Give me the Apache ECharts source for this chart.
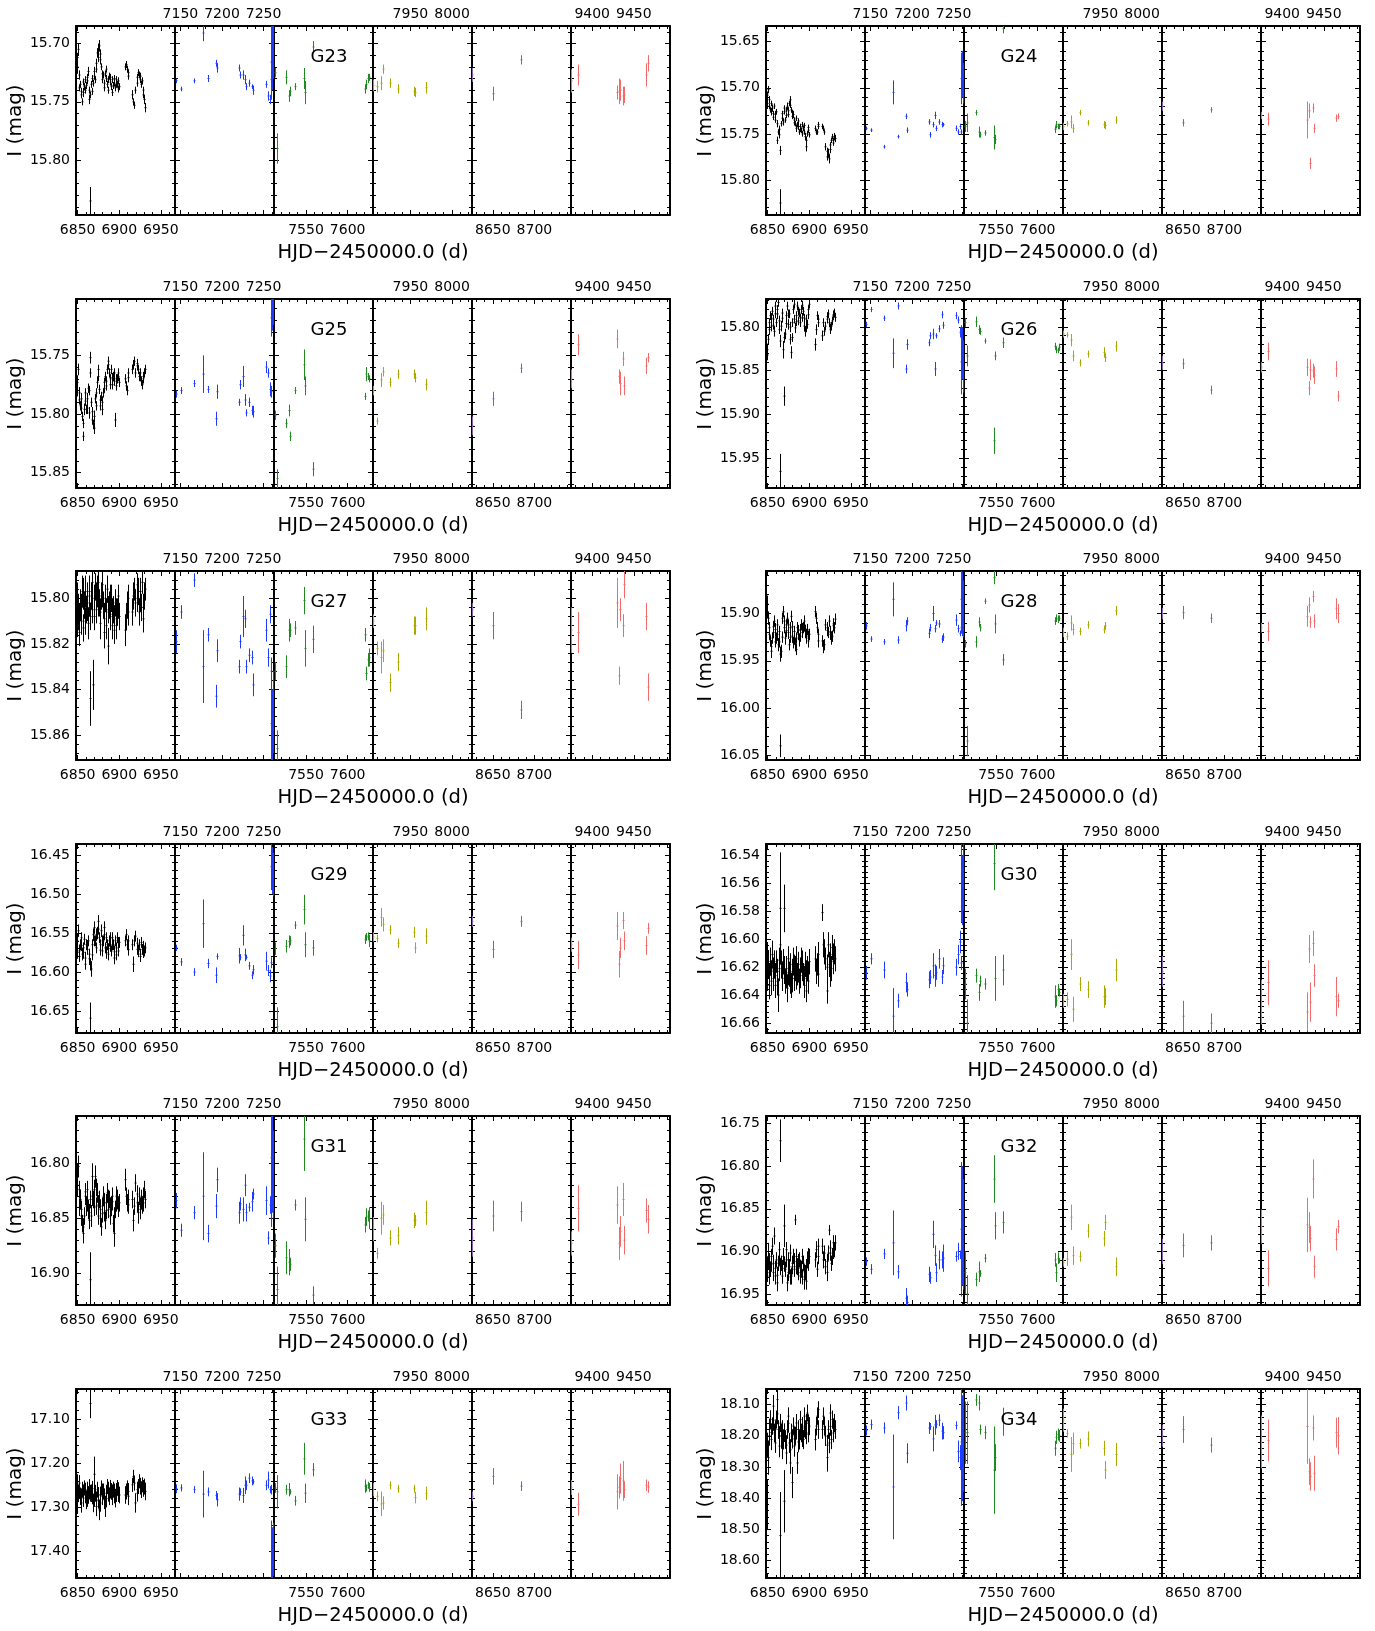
<!DOCTYPE html>
<html>
<head>
<meta charset="utf-8">
<script src="https://cdn.jsdelivr.net/npm/echarts/dist/echarts.min.js"></script>
<style>
  html, body { margin: 0; padding: 0; background: #ffffff; }
  #chart { width: 1375px; height: 1631px; }
</style>
</head>
<body>
<div id="chart"></div>
<script>
// ---- time axis: six observing seasons, each shown in its own narrow box ----
const segRanges = [[6848, 6967], [7143.5, 7262.5], [7511.5, 7630.5], [7905, 8024], [8625, 8744], [9374.5, 9493.5]];
const segTicks = [[6850, 6900, 6950], [7150, 7200, 7250], [7550, 7600], [7950, 8000], [8650, 8700], [9400, 9450]];
const seasonColors = ['#000000', '#1e3cff', '#1f8a1f', '#a9a900', '#8462ac', '#f26a6a'];

// epochs (HJD-2450000) per season, shared by all stars
const tSeason1 = [6848.8,6850.0,6851.2,6852.4,6853.6,6854.8,6856.0,6857.2,6858.4,6859.6,
  6860.8,6862.0,6863.2,6864.4,6865.3,6866.6,6867.8,6869.0,6870.2,6871.4,
  6872.6,6873.8,6875.0,6876.2,6877.4,6878.6,6879.8,6881.0,6882.2,6883.4,
  6884.6,6885.8,6887.0,6888.2,6889.4,6890.6,6891.8,6893.0,6894.2,6895.4,
  6896.6,6897.8,6899.0,6900.2,
  6907.4,6908.2,6909.0,6910.0,6910.8,
  6915.2,6916.4,6918.0,6919.5,6920.8,6922.0,6923.2,6924.4,6925.6,6926.8,6928.0,6929.2,6930.4,
  6849.4,6851.8,6854.2,6856.6,6859.0,6861.4,6863.8,6867.2,6869.6,6872.0,6874.4,6876.8,
  6879.2,6881.6,6884.0,6886.4,6888.8,6891.2,6893.6,6896.0,6898.4,6921.4,6925.0,6928.6];
const tSeason2 = [7145.1,7151.3,7165.9,7177.4,7182.6,7193.0,7194.5,7220.6,7222.1,7225.8,
  7227.4,7228.9,7232.0,7236.2,7237.8,7253.4,7255.5,7257.1,7258.7,7259.3,7260.0,7260.7];
const tSeason3 = [7512.5,7515.7,7526.1,7529.2,7530.3,7536.5,7548.0,7549.0,7558.4,7620.9,7622.4,7624.5,7626.1];
const tSeason4 = [7905.5,7909.7,7914.4,7917.0,7925.8,7935.2,7954.5,7956.0,7969.1];
const tSeason5 = [8625.5,8650.0,8683.9];
const tSeason6 = [9375.0,9383.4,9430.2,9432.3,9433.4,9436.5,9438.6,9464.6,9467.2];
const seasonTimes = [tSeason1, tSeason2, tSeason3, tSeason4, tSeason5, tSeason6];

// ---- stars: magnitude window and labelled ticks ----
const starNames = ['G23','G24','G25','G26','G27','G28','G29','G30','G31','G32','G33','G34'];
const starRanges = [[15.685,15.847],[15.633,15.838],[15.702,15.863],[15.768,15.984],[15.788,15.871],[15.855,16.055],
  [16.436,16.678],[16.532,16.667],[16.757,16.929],[16.741,16.963],[17.032,17.46],[18.05,18.656]];
const starTicks = [[15.70,15.75,15.80],[15.65,15.70,15.75,15.80],[15.75,15.80,15.85],[15.80,15.85,15.90,15.95],
  [15.80,15.82,15.84,15.86],[15.90,15.95,16.00,16.05],[16.45,16.50,16.55,16.60,16.65],
  [16.54,16.56,16.58,16.60,16.62,16.64,16.66],[16.80,16.85,16.90],[16.75,16.80,16.85,16.90,16.95],
  [17.10,17.20,17.30,17.40],[18.10,18.20,18.30,18.40,18.50,18.60]];

// ---- I magnitudes and errors, per star, per season ----
const magG23 = [
  [15.720,15.705,15.727,15.735,15.744,15.750,15.742,15.737,15.731,15.736,
   15.729,15.724,15.740,15.744,15.835,15.735,15.730,15.734,15.724,15.731,
   15.717,15.708,15.705,15.702,15.709,15.720,15.731,15.727,15.734,15.726,
   15.730,15.735,15.731,15.728,15.733,15.737,15.731,15.736,15.734,15.738,
   15.731,15.735,15.732,15.737, 15.720,15.718,15.722,15.725,15.728,
   15.744,15.750,15.753,15.740,15.734,15.725,15.727,15.731,15.735,15.732,15.740,15.748,15.755,
   15.712,15.738,15.741,15.733,15.740,15.732,15.748,15.741,15.728,15.722,15.712,15.714,
   15.726,15.738,15.722,15.740,15.729,15.742,15.730,15.735,15.739,15.729,15.728,15.744],
  [15.732,15.739,15.732,15.691,15.730,15.717,15.721,15.721,15.727,15.727,15.731,15.737,15.734,15.737,15.740,15.735,15.745,15.748,15.731,15.716,15.710,15.705],
  [15.725,15.790,15.729,15.745,15.741,15.737,15.730,15.742,15.703,15.739,15.735,15.730,15.729],
  [15.736,15.737,15.734,15.722,15.734,15.739,15.741,15.742,15.738],
  [15.727,15.743,15.714],
  [15.732,15.727,15.742,15.741,15.740,15.745,15.744,15.727,15.717]];
const errG23 = [
  [.006,.005,.004,.003,.003,.003,.004,.003,.003,.003, .003,.004,.003,.003,.012,.003,.003,.003,.004,.003,
   .004,.004,.005,.005,.004,.003,.003,.003,.003,.003, .003,.003,.003,.003,.003,.003,.003,.003,.003,.003,
   .003,.003,.003,.003, .003,.003,.003,.003,.003, .004,.003,.003,.003,.003,.003,.003,.003,.003,.003,.003,.004,.004,
   .004,.003,.003,.003,.003,.003,.004,.003,.003,.003,.004,.004,.003,.003,.003,.003,.003,.003,.003,.003,.003,.003,.003,.003],
  [.002,.002,.002,.007,.003,.003,.004,.003,.003,.004,.004,.003,.003,.002,.004,.003,.004,.004,.004,.032,.030,.025],
  [.004,.013,.006,.005,.004,.003,.009,.010,.005,.004,.004,.004,.003],
  [.005,.005,.006,.004,.004,.004,.004,.004,.005],
  [.006,.006,.004],
  [.010,.009,.006,.011,.009,.008,.007,.010,.007]];

const magG24 = [
  [15.717,15.702,15.713,15.724,15.717,15.722,15.728,15.720,15.729,15.726,
   15.739,15.748,15.751,15.768,15.825,15.739,15.728,15.737,15.726,15.735,
   15.724,15.720,15.729,15.717,15.713,15.724,15.731,15.729,15.735,15.739,
   15.733,15.740,15.742,15.748,15.742,15.746,15.740,15.744,15.748,15.753,
   15.764,15.750,15.746,15.751, 15.744,15.748,15.748,15.742,15.740,
   15.742,15.744,15.748,15.764,15.769,15.771,15.777,15.767,15.757,15.753,15.757,15.753,15.755,
   15.708,15.720,15.726,15.732,15.735,15.757,15.745,15.733,15.722,15.730,15.725,15.719,
   15.727,15.738,15.744,15.736,15.745,15.750,15.741,15.757,15.743,15.775,15.762,15.760],
  [15.744,15.746,15.764,15.705,15.753,15.731,15.746,15.737,15.751,15.740,15.730,15.744,15.737,15.740,15.740,15.744,15.748,15.742,15.748,15.690,15.685,15.695],
  [15.742,15.738,15.727,15.748,15.751,15.749,15.754,15.756,15.636,15.745,15.740,15.742,15.742],
  [15.742,15.739,15.737,15.744,15.727,15.738,15.740,15.741,15.735],
  [15.720,15.738,15.724],
  [15.730,15.734,15.735,15.725,15.782,15.722,15.744,15.733,15.731]];
const errG24 = [
  [.006,.004,.004,.003,.003,.004,.003,.003,.004,.003, .004,.003,.004,.005,.015,.003,.003,.004,.003,.003,
   .003,.004,.003,.003,.004,.003,.003,.004,.003,.003, .003,.003,.004,.003,.003,.003,.003,.003,.003,.004,
   .005,.003,.003,.003, .003,.003,.003,.003,.003, .003,.003,.003,.004,.004,.005,.005,.004,.003,.003,.003,.004,.004,
   .004,.003,.004,.003,.003,.004,.004,.003,.003,.003,.004,.003,.003,.003,.004,.003,.003,.003,.003,.004,.003,.004,.003,.003],
  [.002,.002,.002,.013,.002,.003,.003,.003,.003,.003,.004,.003,.003,.003,.002,.003,.003,.003,.003,.028,.025,.022],
  [.006,.010,.003,.006,.003,.003,.013,.005,.005,.004,.004,.003,.003],
  [.004,.003,.007,.005,.003,.003,.004,.004,.004],
  [.005,.004,.003],
  [.004,.007,.020,.008,.006,.005,.005,.004,.003]];

const magG25 = [
  [15.773,15.762,15.782,15.793,15.787,15.802,15.819,15.796,15.782,15.796,
   15.787,15.778,15.799,15.765,15.752,15.790,15.805,15.809,15.802,15.787,
   15.793,15.773,15.762,15.779,15.793,15.785,15.796,15.782,15.773,15.768,
   15.776,15.762,15.755,15.765,15.770,15.762,15.775,15.768,15.765,15.805,
   15.776,15.770,15.765,15.773, 15.770,15.776,15.780,15.765,15.769,
   15.762,15.758,15.755,15.765,15.759,15.762,15.768,15.765,15.772,15.775,15.770,15.765,15.762,
   15.780,15.788,15.795,15.808,15.789,15.795,15.780,15.798,15.812,15.782,15.768,15.788,
   15.790,15.778,15.772,15.758,15.775,15.769,15.772,15.770,15.768,15.757,15.768,15.768],
  [15.783,15.780,15.774,15.766,15.779,15.804,15.781,15.790,15.775,15.768,15.788,15.799,15.790,15.797,15.798,15.760,15.765,15.779,15.781,15.718,15.715,15.712],
  [15.801,15.855,15.808,15.797,15.819,15.780,15.758,15.776,15.847,15.785,15.766,15.768,15.770],
  [15.780,15.806,15.771,15.764,15.773,15.766,15.766,15.769,15.775],
  [15.810,15.787,15.761],
  [15.770,15.741,15.736,15.768,15.774,15.753,15.776,15.759,15.752]];
const errG25 = [
  [.006,.005,.005,.004,.005,.004,.004,.005,.004,.004, .005,.004,.005,.004,.005,.004,.004,.004,.005,.004,
   .004,.005,.004,.004,.004,.004,.005,.004,.004,.004, .004,.004,.004,.004,.004,.004,.004,.004,.004,.006,
   .004,.004,.004,.004, .004,.004,.004,.004,.004, .004,.004,.004,.004,.004,.004,.004,.004,.004,.004,.004,.004,.004,
   .005,.004,.005,.004,.004,.005,.004,.004,.005,.004,.004,.004,.005,.004,.004,.004,.004,.004,.004,.004,.004,.004,.004,.004],
  [.003,.003,.003,.016,.003,.006,.006,.003,.004,.009,.005,.003,.004,.004,.005,.005,.004,.006,.005,.016,.014,.012],
  [.004,.008,.004,.005,.004,.003,.013,.008,.006,.003,.006,.003,.003],
  [.004,.003,.006,.004,.004,.004,.004,.004,.005],
  [.008,.006,.004],
  [.008,.009,.008,.006,.010,.006,.008,.007,.004]];

const magG26 = [
  [15.826,15.814,15.803,15.787,15.799,15.782,15.791,15.805,15.785,15.795,
   15.780,15.772,15.793,15.816,15.965,15.799,15.784,15.826,15.879,15.808,
   15.787,15.776,15.797,15.785,15.814,15.829,15.795,15.780,15.791,15.801,
   15.787,15.776,15.793,15.784,15.795,15.780,15.789,15.782,15.799,15.805,
   15.791,15.797,15.780,15.774, 15.820,15.803,15.787,15.791,15.795,
   15.810,15.795,15.805,15.799,15.791,15.785,15.795,15.803,15.799,15.793,15.787,15.784,15.789,
   15.832,15.795,15.790,15.798,15.776,15.785,15.803,15.790,15.812,15.796,15.785,15.800,
   15.812,15.774,15.794,15.782,15.790,15.775,15.790,15.800,15.786,15.788,15.801,15.786],
  [15.797,15.780,15.790,15.830,15.776,15.848,15.820,15.818,15.810,15.808,15.848,15.810,15.802,15.786,15.798,15.787,15.792,15.806,15.803,15.840,15.830,15.845],
  [15.795,15.833,15.794,15.803,15.805,15.816,15.930,15.833,15.818,15.822,15.826,15.827,15.823],
  [15.808,15.809,15.815,15.833,15.841,15.831,15.829,15.835,15.822],
  [15.841,15.842,15.872],
  [15.846,15.828,15.846,15.870,15.849,15.850,15.855,15.848,15.879]];
const errG26 = [
  [.007,.006,.006,.005,.006,.005,.005,.006,.005,.005, .005,.005,.006,.007,.020,.006,.005,.010,.011,.006,
   .005,.005,.006,.005,.006,.007,.005,.005,.005,.006, .005,.005,.005,.005,.005,.005,.005,.005,.006,.006,
   .005,.005,.005,.005, .007,.006,.005,.005,.005, .006,.005,.005,.005,.005,.005,.005,.005,.005,.005,.005,.005,.005,
   .006,.005,.006,.005,.005,.006,.005,.005,.006,.005,.005,.006,.005,.005,.005,.005,.005,.005,.005,.006,.005,.005,.005,.005],
  [.003,.003,.003,.017,.004,.005,.006,.004,.004,.006,.008,.003,.004,.004,.004,.004,.004,.006,.005,.037,.030,.030],
  [.005,.012,.006,.005,.004,.003,.015,.005,.006,.004,.004,.003,.004],
  [.004,.003,.007,.006,.004,.004,.006,.005,.006],
  [.008,.006,.005],
  [.006,.010,.010,.008,.012,.008,.010,.009,.006]];

const magG27 = [
  [15.811,15.806,15.815,15.803,15.810,15.797,15.813,15.803,15.797,15.805,
   15.799,15.811,15.802,15.808,15.844,15.799,15.793,15.838,15.800,15.795,
   15.805,15.797,15.793,15.802,15.811,15.799,15.794,15.803,15.815,15.800,
   15.806,15.796,15.821,15.803,15.808,15.800,15.812,15.805,15.809,15.802,
   15.812,15.806,15.799,15.808, 15.814,15.808,15.803,15.800,15.806,
   15.806,15.799,15.796,15.802,15.794,15.797,15.806,15.800,15.804,15.793,15.809,15.799,15.796,
   15.800,15.808,15.804,15.798,15.810,15.804,15.797,15.805,15.808,15.800,15.802,15.806,
   15.798,15.809,15.812,15.805,15.800,15.807,15.814,15.806,15.803,15.800,15.797,15.804],
  [15.819,15.806,15.792,15.830,15.816,15.843,15.823,15.830,15.819,15.808,15.809,15.830,15.825,15.826,15.838,15.814,15.826,15.807,15.832,15.855,15.860,15.850],
  [15.832,15.866,15.830,15.814,15.814,15.813,15.801,15.822,15.818,15.816,15.833,15.827,15.826],
  [15.810,15.822,15.826,15.823,15.837,15.828,15.812,15.812,15.809],
  [15.805,15.812,15.849],
  [15.814,15.815,15.802,15.834,15.805,15.812,15.794,15.808,15.839]];
const errG27 = [
  [.006,.008,.006,.007,.006,.007,.006,.006,.007,.006, .006,.007,.006,.006,.012,.006,.006,.011,.006,.006,
   .006,.007,.006,.006,.007,.006,.006,.006,.007,.006, .006,.006,.008,.006,.006,.006,.006,.006,.006,.006,
   .006,.006,.005,.006, .007,.006,.006,.006,.006, .006,.006,.005,.006,.005,.006,.006,.006,.006,.005,.006,.006,.005,
   .007,.006,.006,.007,.006,.006,.007,.006,.006,.007,.006,.006,.006,.007,.006,.006,.006,.007,.006,.006,.006,.006,.006,.006],
  [.005,.003,.003,.016,.003,.005,.005,.003,.003,.009,.004,.003,.003,.003,.005,.005,.004,.004,.006,.020,.020,.018],
  [.004,.008,.005,.005,.003,.003,.006,.008,.006,.003,.003,.003,.004],
  [.003,.003,.007,.005,.004,.004,.004,.004,.005],
  [.003,.006,.004],
  [.010,.009,.011,.004,.005,.005,.006,.006,.006]];

const magG28 = [
  [15.890,15.905,15.915,15.929,15.935,15.926,15.920,15.908,15.917,15.926,
   15.912,15.933,15.919,15.943,16.040,15.940,15.905,15.898,15.915,15.926,
   15.912,15.905,15.920,15.933,15.915,15.903,15.924,15.931,15.919,15.933,
   15.926,15.915,15.922,15.928,15.917,15.912,15.920,15.915,15.908,15.919,
   15.926,15.917,15.929,15.922, 15.898,15.905,15.915,15.922,15.929,
   15.929,15.935,15.933,15.912,15.915,15.920,15.908,15.919,15.926,15.924,15.913,15.915,15.906,
   15.898,15.922,15.940,15.914,15.930,15.922,15.930,15.925,15.908,15.918,15.912,15.925,
   15.914,15.926,15.938,15.918,15.924,15.916,15.912,15.922,15.924,15.918,15.922,15.911],
  [15.913,15.927,15.930,15.885,15.928,15.913,15.908,15.921,15.915,15.900,15.916,15.910,15.911,15.927,15.925,15.907,15.916,15.921,15.915,15.885,15.890,15.895],
  [15.932,16.035,15.930,15.909,15.915,15.887,15.862,15.911,15.949,15.908,15.905,15.906,15.905],
  [15.920,15.924,15.910,15.917,15.919,15.912,15.917,15.913,15.897],
  [15.900,15.899,15.905],
  [15.915,15.919,15.903,15.891,15.909,15.882,15.908,15.895,15.900]];
const errG28 = [
  [.009,.007,.006,.006,.007,.006,.006,.006,.007,.006, .006,.007,.006,.008,.012,.007,.006,.006,.006,.007,
   .006,.006,.007,.006,.006,.006,.007,.006,.006,.007, .006,.006,.006,.007,.006,.006,.006,.006,.006,.007,
   .006,.006,.007,.006, .006,.006,.006,.006,.007, .006,.007,.006,.006,.006,.006,.006,.006,.007,.006,.006,.006,.006,
   .007,.006,.007,.006,.006,.007,.006,.006,.006,.007,.006,.006,.006,.007,.006,.006,.006,.006,.007,.006,.006,.006,.006,.006],
  [.004,.003,.003,.018,.004,.006,.004,.005,.004,.008,.004,.003,.004,.004,.004,.006,.004,.003,.005,.036,.034,.030],
  [.004,.016,.006,.005,.004,.003,.007,.010,.006,.004,.004,.004,.003],
  [.005,.004,.008,.006,.004,.004,.004,.004,.005],
  [.006,.007,.005],
  [.005,.010,.011,.008,.006,.006,.007,.011,.010]];

const magG29 = [
  [16.560,16.547,16.573,16.565,16.556,16.577,16.569,16.558,16.582,16.565,
   16.571,16.560,16.577,16.590,16.659,16.596,16.565,16.552,16.543,16.560,
   16.569,16.550,16.535,16.556,16.565,16.547,16.573,16.560,16.543,16.569,
   16.556,16.565,16.577,16.560,16.567,16.573,16.556,16.565,16.582,16.560,
   16.569,16.556,16.573,16.562, 16.560,16.552,16.565,16.571,16.560,
   16.565,16.590,16.560,16.554,16.571,16.573,16.565,16.577,16.562,16.571,16.567,16.573,16.569,
   16.575,16.580,16.566,16.575,16.590,16.566,16.583,16.578,16.560,16.552,16.545,16.572,
   16.560,16.552,16.575,16.570,16.556,16.565,16.574,16.578,16.562,16.563,16.580,16.575],
  [16.569,16.587,16.600,16.538,16.589,16.604,16.580,16.579,16.581,16.553,16.578,16.581,16.592,16.604,16.597,16.586,16.598,16.605,16.588,16.465,16.470,16.475],
  [16.570,16.670,16.567,16.561,16.560,16.540,16.520,16.565,16.569,16.558,16.555,16.554,16.560],
  [16.555,16.557,16.530,16.539,16.546,16.563,16.549,16.569,16.554],
  [16.535,16.571,16.535],
  [16.565,16.578,16.541,16.590,16.569,16.534,16.560,16.566,16.544]];
const errG29 = [
  [.009,.008,.008,.007,.007,.008,.007,.007,.008,.007, .007,.007,.007,.008,.020,.010,.007,.008,.008,.007,
   .007,.008,.008,.007,.007,.008,.007,.007,.008,.007, .007,.007,.008,.007,.007,.007,.007,.007,.008,.007,
   .007,.007,.007,.007, .007,.007,.007,.008,.007, .007,.010,.007,.007,.007,.008,.007,.007,.007,.007,.007,.007,.007,
   .008,.007,.007,.008,.007,.007,.008,.007,.007,.008,.007,.007,.007,.007,.008,.007,.007,.007,.008,.007,.007,.007,.007,.007],
  [.004,.005,.005,.031,.006,.010,.004,.010,.004,.013,.008,.003,.005,.005,.006,.012,.007,.008,.007,.030,.030,.028],
  [.008,.025,.008,.008,.006,.005,.019,.016,.010,.006,.005,.005,.008],
  [.006,.005,.012,.009,.006,.006,.007,.007,.010],
  [.007,.011,.007],
  [.009,.018,.018,.017,.013,.011,.012,.012,.007]];

const magG30 = [
  [16.625,16.618,16.633,16.616,16.623,16.611,16.628,16.618,16.633,16.616,
   16.623,16.640,16.621,16.604,16.578,16.618,16.625,16.616,16.578,16.630,
   16.621,16.635,16.614,16.625,16.618,16.633,16.623,16.616,16.628,16.621,
   16.614,16.625,16.618,16.630,16.623,16.615,16.621,16.625,16.633,16.618,
   16.637,16.621,16.625,16.616, 16.614,16.623,16.618,16.611,16.625,
   16.581,16.604,16.609,16.614,16.637,16.604,16.618,16.611,16.621,16.606,16.616,16.609,16.614,
   16.612,16.626,16.630,16.622,16.626,16.630,16.615,16.628,16.622,16.626,16.624,16.630,
   16.628,16.620,16.627,16.622,16.626,16.618,16.628,16.624,16.630,16.620,16.624,16.612],
  [16.624,16.614,16.622,16.655,16.644,16.631,16.636,16.629,16.627,16.619,16.626,16.624,16.614,16.627,16.619,16.620,16.611,16.602,16.617,16.560,16.565,16.555],
  [16.632,16.660,16.626,16.638,16.630,16.632,16.546,16.628,16.622,16.641,16.644,16.636,16.638],
  [16.644,16.643,16.611,16.650,16.632,16.636,16.641,16.641,16.622],
  [16.623,16.655,16.660],
  [16.645,16.631,16.652,16.607,16.645,16.603,16.626,16.641,16.644]];
const errG30 = [
  [.012,.010,.010,.010,.008,.010,.009,.010,.009,.008, .009,.012,.009,.010,.040,.010,.009,.009,.017,.009,
   .009,.010,.009,.009,.008,.009,.009,.010,.009,.009, .009,.008,.009,.009,.010,.009,.009,.008,.009,.009,
   .008,.009,.009,.009, .009,.009,.008,.009,.009, .006,.009,.009,.008,.009,.009,.009,.008,.009,.009,.009,.009,.009,
   .010,.009,.010,.009,.009,.010,.009,.009,.010,.009,.009,.009,.010,.009,.009,.009,.009,.010,.009,.009,.009,.009,.010,.009],
  [.005,.004,.006,.020,.005,.007,.005,.006,.005,.009,.008,.005,.007,.005,.006,.006,.007,.008,.005,.028,.025,.025],
  [.011,.017,.005,.006,.004,.004,.019,.016,.011,.008,.004,.004,.003],
  [.005,.005,.011,.009,.005,.006,.008,.006,.008],
  [.011,.011,.007],
  [.016,.016,.014,.010,.014,.009,.008,.014,.005]];

const magG31 = [
  [16.812,16.803,16.824,16.833,16.842,16.855,16.864,16.848,16.830,16.839,
   16.824,16.842,16.852,16.833,16.906,16.848,16.812,16.833,16.824,16.812,
   16.839,16.827,16.848,16.833,16.842,16.858,16.839,16.830,16.845,16.852,
   16.836,16.827,16.842,16.833,16.848,16.839,16.830,16.855,16.864,16.842,
   16.836,16.833,16.841,16.836, 16.815,16.830,16.836,16.833,16.838,
   16.833,16.852,16.839,16.818,16.836,16.845,16.830,16.839,16.833,16.838,16.830,16.824,16.833,
   16.820,16.840,16.848,16.858,16.826,16.835,16.845,16.830,16.840,16.822,16.838,16.850,
   16.846,16.836,16.843,16.832,16.840,16.835,16.848,16.830,16.838,16.828,16.842,16.836],
  [16.834,16.861,16.845,16.830,16.864,16.839,16.815,16.845,16.837,16.842,16.820,16.845,16.840,16.835,16.828,16.834,16.868,16.838,16.850,16.795,16.800,16.810],
  [16.875,16.915,16.886,16.890,16.892,16.838,16.778,16.851,16.920,16.856,16.849,16.848,16.850],
  [16.860,16.882,16.850,16.847,16.868,16.866,16.852,16.852,16.845],
  [16.868,16.848,16.844],
  [16.873,16.841,16.838,16.873,16.862,16.833,16.870,16.843,16.851]];
const errG31 = [
  [.012,.010,.008,.009,.008,.008,.009,.008,.008,.009, .008,.009,.008,.008,.025,.010,.012,.008,.009,.010,
   .008,.009,.008,.008,.009,.008,.008,.009,.008,.008, .008,.009,.008,.008,.008,.009,.008,.008,.012,.008,
   .008,.009,.008,.008, .010,.008,.008,.009,.008, .008,.010,.008,.008,.009,.010,.008,.008,.009,.008,.008,.008,.008,
   .010,.008,.009,.008,.008,.009,.008,.009,.008,.008,.009,.008,.008,.009,.008,.008,.009,.008,.008,.009,.008,.008,.009,.008],
  [.007,.006,.006,.040,.008,.011,.011,.010,.006,.011,.010,.008,.004,.009,.005,.013,.006,.008,.008,.050,.045,.040],
  [.011,.021,.015,.012,.006,.005,.029,.020,.008,.007,.008,.005,.010],
  [.011,.005,.015,.009,.007,.008,.007,.005,.011],
  [.017,.014,.009],
  [.011,.021,.017,.015,.014,.015,.013,.011,.013]];

const magG32 = [
  [16.918,16.906,16.929,16.921,16.906,16.894,16.914,16.882,16.929,16.910,
   16.937,16.914,16.898,16.918,16.770,16.914,16.929,16.906,16.870,16.921,
   16.898,16.937,16.910,16.918,16.902,16.929,16.914,16.906,16.921,16.863,
   16.906,16.918,16.925,16.910,16.929,16.921,16.906,16.914,16.933,16.925,
   16.918,16.910,16.914,16.906, 16.910,16.898,16.921,16.906,16.894,
   16.894,16.910,16.902,16.918,16.925,16.902,16.875,16.902,16.914,16.906,16.890,16.898,16.890,
   16.925,16.912,16.915,16.925,16.920,16.928,16.908,16.920,16.915,16.910,16.925,16.930,
   16.918,16.912,16.918,16.912,16.920,16.930,16.924,16.935,16.905,16.912,16.896,16.900],
  [16.912,16.921,16.903,16.890,16.924,16.955,16.960,16.927,16.931,16.880,16.905,16.925,16.910,16.910,16.908,16.906,16.900,16.904,16.900,16.874,16.870,16.880],
  [16.925,16.950,16.933,16.924,16.926,16.908,16.815,16.870,16.866,16.910,16.925,16.908,16.911],
  [16.913,16.909,16.860,16.905,16.906,16.876,16.885,16.866,16.918],
  [16.900,16.893,16.890],
  [16.871,16.920,16.869,16.872,16.885,16.815,16.918,16.886,16.871]];
const errG32 = [
  [.012,.016,.010,.009,.009,.010,.010,.010,.010,.009, .010,.009,.009,.010,.025,.009,.009,.010,.025,.009,
   .009,.010,.009,.009,.010,.010,.009,.009,.009,.006, .009,.010,.009,.009,.009,.010,.009,.009,.012,.009,
   .009,.010,.009,.009, .009,.010,.009,.009,.009, .009,.010,.009,.009,.010,.009,.006,.009,.009,.010,.009,.009,.009,
   .011,.010,.009,.010,.009,.010,.009,.010,.009,.009,.010,.009,.009,.010,.009,.009,.010,.009,.009,.010,.009,.009,.009,.009],
  [.005,.006,.006,.038,.008,.012,.008,.009,.007,.016,.012,.011,.011,.010,.016,.006,.010,.005,.005,.079,.070,.065],
  [.025,.022,.008,.012,.004,.005,.028,.016,.013,.008,.011,.007,.003],
  [.005,.008,.015,.011,.006,.008,.009,.009,.011],
  [.015,.014,.009],
  [.020,.021,.032,.018,.015,.023,.013,.013,.008]];

const magG33 = [
  [17.270,17.268,17.245,17.275,17.290,17.260,17.279,17.256,17.272,17.283,
   17.260,17.272,17.253,17.268,17.065,17.268,17.275,17.290,17.225,17.268,
   17.298,17.260,17.283,17.306,17.272,17.256,17.275,17.264,17.283,17.298,
   17.268,17.253,17.260,17.275,17.256,17.264,17.268,17.260,17.272,17.279,
   17.264,17.256,17.268,17.272, 17.272,17.264,17.256,17.275,17.264,
   17.249,17.230,17.245,17.290,17.268,17.253,17.241,17.253,17.260,17.249,17.256,17.253,17.264,
   17.258,17.262,17.275,17.268,17.262,17.280,17.262,17.258,17.280,17.285,17.272,17.290,
   17.265,17.275,17.280,17.268,17.262,17.275,17.265,17.270,17.262,17.260,17.250,17.258],
  [17.258,17.256,17.260,17.270,17.265,17.273,17.283,17.270,17.265,17.273,17.250,17.250,17.234,17.240,17.242,17.250,17.238,17.260,17.260,17.400,17.410,17.395],
  [17.256,17.265,17.260,17.260,17.265,17.285,17.190,17.268,17.215,17.252,17.256,17.250,17.255],
  [17.260,17.275,17.292,17.290,17.250,17.258,17.258,17.278,17.268],
  [17.275,17.230,17.252],
  [17.255,17.293,17.265,17.255,17.235,17.240,17.260,17.250,17.254]];
const errG33 = [
  [.045,.020,.018,.020,.022,.018,.020,.017,.019,.021, .018,.020,.017,.019,.033,.020,.018,.021,.040,.019,
   .022,.018,.020,.023,.019,.017,.020,.018,.021,.024, .019,.017,.018,.020,.018,.019,.020,.018,.019,.021,
   .019,.018,.020,.019, .020,.018,.017,.020,.019, .016,.015,.017,.022,.019,.017,.016,.018,.019,.017,.018,.018,.020,
   .022,.019,.018,.020,.018,.019,.020,.018,.019,.021,.018,.020,.019,.018,.020,.019,.018,.020,.019,.018,.019,.018,.017,.018],
  [.010,.008,.008,.053,.010,.010,.015,.015,.008,.017,.020,.011,.011,.010,.006,.011,.019,.008,.011,.070,.065,.060],
  [.011,.038,.011,.015,.006,.011,.036,.022,.015,.015,.008,.008,.010],
  [.015,.011,.028,.015,.009,.009,.009,.013,.015],
  [.011,.019,.011],
  [.017,.026,.040,.025,.034,.045,.019,.013,.013]];

const magG34 = [
  [18.420,18.270,18.180,18.148,18.212,18.169,18.105,18.191,18.223,18.148,
   18.084,18.180,18.233,18.159,18.520,18.201,18.180,18.212,18.410,18.212,
   18.255,18.180,18.137,18.223,18.287,18.191,18.350,18.169,18.233,18.201,
   18.159,18.287,18.180,18.212,18.148,18.191,18.169,18.212,18.137,18.180,
   18.159,18.127,18.191,18.169, 18.212,18.169,18.137,18.116,18.180,
   18.180,18.137,18.169,18.201,18.270,18.180,18.223,18.127,18.212,18.148,18.191,18.159,18.180,
   18.230,18.200,18.190,18.150,18.180,18.130,18.200,18.240,18.190,18.230,18.160,18.245,
   18.210,18.200,18.180,18.220,18.185,18.205,18.175,18.195,18.160,18.230,18.170,18.175],
  [18.183,18.164,18.175,18.364,18.126,18.095,18.256,18.175,18.170,18.210,18.165,18.163,18.150,18.185,18.190,18.167,18.250,18.270,18.220,18.235,18.240,18.220],
  [18.190,18.190,18.085,18.095,18.180,18.190,18.310,18.270,18.155,18.240,18.205,18.196,18.200],
  [18.150,18.192,18.260,18.225,18.225,18.210,18.240,18.310,18.260],
  [18.200,18.180,18.230],
  [18.220,18.215,18.170,18.315,18.330,18.175,18.320,18.190,18.200]];
const errG34 = [
  [.080,.055,.035,.030,.034,.028,.036,.030,.032,.029, .033,.030,.036,.029,.140,.040,.030,.032,.100,.030,
   .036,.030,.028,.032,.035,.030,.050,.028,.034,.030, .029,.035,.030,.032,.028,.030,.029,.031,.028,.030,
   .029,.027,.030,.029, .035,.030,.028,.027,.030, .030,.028,.030,.032,.045,.030,.033,.028,.031,.029,.030,.029,.030,
   .040,.032,.030,.034,.030,.033,.031,.035,.030,.032,.030,.034,.031,.030,.032,.033,.029,.031,.030,.032,.029,.033,.030,.031],
  [.016,.016,.018,.168,.021,.024,.032,.019,.011,.040,.032,.013,.019,.027,.021,.013,.035,.040,.035,.190,.170,.160],
  [.100,.100,.019,.024,.016,.021,.140,.043,.045,.024,.021,.019,.019],
  [.037,.013,.056,.035,.016,.024,.024,.029,.037],
  [.035,.043,.024],
  [.085,.067,.120,.043,.045,.040,.056,.048,.060]];

const starMags = [magG23, magG24, magG25, magG26, magG27, magG28, magG29, magG30, magG31, magG32, magG33, magG34];
const starErrs = [errG23, errG24, errG25, errG26, errG27, errG28, errG29, errG30, errG31, errG32, errG33, errG34];

// ---- layout (pixels) ----
const FONT = 'DejaVu Sans';
const PANEL_LEFT = [76, 766];
const ROW_TOP = [26, 299, 571, 844, 1116, 1389];
const SEG_W = 99;
const BOX_H = 189;

function ticksBetween(min, max, step) {
  const out = [];
  for (let i = Math.ceil(min / step - 1e-9); i * step <= max + 1e-9; i++) out.push(+(i * step).toFixed(6));
  return out;
}

function frameAxis(gridIndex, position, min, max, values, o) {
  return {
    gridIndex: gridIndex, type: 'value', position: position, min: min, max: max,
    inverse: !!o.inverse, scale: true,
    splitLine: { show: false }, minorTick: { show: false }, minorSplitLine: { show: false },
    axisPointer: { show: false },
    axisLine: { show: !!o.line, onZero: false, lineStyle: { color: '#000', width: 2 } },
    axisTick: { show: true, inside: true, length: o.tickLen, customValues: values,
                lineStyle: { color: '#000', width: 1 } },
    axisLabel: { show: !!o.labels, customValues: values, margin: o.margin || 6,
                 fontSize: 14, fontFamily: FONT, color: '#000', formatter: o.fmt },
    name: o.name || '', nameLocation: 'middle', nameGap: o.nameGap || 0, nameRotate: 90,
    nameTextStyle: { fontSize: 20, fontFamily: FONT, color: '#000' }
  };
}

// vertical error bar with a tiny mark at the measured value
function errorBars(color) {
  return function (params, api) {
    const t = api.value(0), m = api.value(1), e = api.value(2);
    const c = api.coord([t, m]);
    const hi = api.coord([t, m - e]);
    const lo = api.coord([t, m + e]);
    const x = Math.round(c[0]) + 0.5;
    return {
      type: 'group',
      children: [
        { type: 'line', shape: { x1: x, y1: hi[1], x2: x, y2: lo[1] }, style: { stroke: color, lineWidth: 1 } },
        { type: 'line', shape: { x1: x - 1, y1: c[1], x2: x + 1, y2: c[1] }, style: { stroke: color, lineWidth: 1 } }
      ]
    };
  };
}

const grids = [], xAxes = [], yAxes = [], series = [], graphics = [];
const fmtX = v => String(Math.round(v));
const fmtY = v => v.toFixed(2);

starNames.forEach((name, s) => {
  const col = s % 2, row = Math.floor(s / 2);
  const left0 = PANEL_LEFT[col], top = ROW_TOP[row];
  const ymin = starRanges[s][0], ymax = starRanges[s][1];
  const yMajor = starTicks[s];
  const yMinor = ticksBetween(ymin, ymax, (yMajor[1] - yMajor[0]) / 5);

  for (let k = 0; k < 6; k++) {
    const g = grids.length;
    grids.push({ left: left0 + k * SEG_W, top: top, width: SEG_W, height: BOX_H });
    const xmin = segRanges[k][0], xmax = segRanges[k][1];
    const xMinor = ticksBetween(xmin, xmax, 10);
    const labelBottom = (k % 2 === 0);

    xAxes.push(frameAxis(g, 'bottom', xmin, xmax, segTicks[k], { line: true, tickLen: 5, labels: labelBottom, margin: 8, fmt: fmtX }));
    xAxes.push(frameAxis(g, 'bottom', xmin, xmax, xMinor, { tickLen: 3 }));
    xAxes.push(frameAxis(g, 'top', xmin, xmax, segTicks[k], { line: true, tickLen: 5, labels: !labelBottom, margin: 5, fmt: fmtX }));
    xAxes.push(frameAxis(g, 'top', xmin, xmax, xMinor, { tickLen: 3 }));

    yAxes.push(frameAxis(g, 'left', ymin, ymax, yMajor, { inverse: true, line: true, tickLen: 5, labels: k === 0, margin: 6, fmt: fmtY,
      name: k === 0 ? 'I (mag)' : '', nameGap: 44 }));
    yAxes.push(frameAxis(g, 'left', ymin, ymax, yMinor, { inverse: true, tickLen: 3 }));
    yAxes.push(frameAxis(g, 'right', ymin, ymax, yMajor, { inverse: true, line: true, tickLen: 5 }));
    yAxes.push(frameAxis(g, 'right', ymin, ymax, yMinor, { inverse: true, tickLen: 3 }));

    const times = seasonTimes[k], mags = starMags[s][k], errs = starErrs[s][k];
    const n = Math.min(times.length, mags.length, errs.length);
    const data = [];
    for (let i = 0; i < n; i++) data.push([times[i], mags[i], errs[i]]);
    series.push({
      type: 'custom', xAxisIndex: 4 * g, yAxisIndex: 4 * g, clip: true, silent: true,
      renderItem: errorBars(seasonColors[k]), data: data, z: 3
    });
  }

  // star name inside the third box, and the shared time-axis title under the panel
  graphics.push({ type: 'text', x: left0 + 253, y: top + 31, z: 10,
    style: { text: name, fontSize: 18, fontFamily: FONT, fill: '#000',
             align: 'center', verticalAlign: 'middle', textAlign: 'center', textVerticalAlign: 'middle' } });
  graphics.push({ type: 'text', x: left0 + 3 * SEG_W, y: top + 227, z: 10,
    style: { text: 'HJD\u22122450000.0 (d)', fontSize: 19.5, fontFamily: FONT, fill: '#000',
             align: 'center', verticalAlign: 'middle', textAlign: 'center', textVerticalAlign: 'middle' } });
});

const chart = echarts.init(document.getElementById('chart'), null, { renderer: 'canvas' });
chart.setOption({
  animation: false,
  backgroundColor: '#ffffff',
  grid: grids,
  xAxis: xAxes,
  yAxis: yAxes,
  series: series,
  graphic: graphics
});
</script>
</body>
</html>
